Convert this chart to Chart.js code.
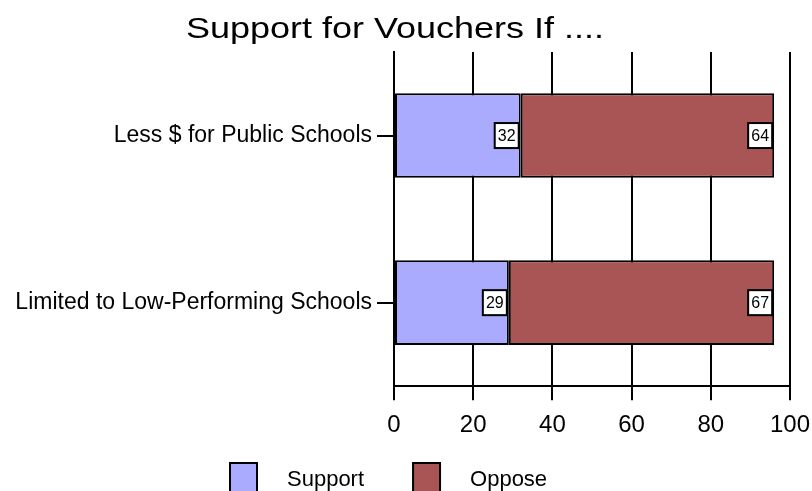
<!DOCTYPE html>
<html>
<head>
<meta charset="utf-8">
<script src="https://cdn.jsdelivr.net/npm/chart.js@4/dist/chart.umd.min.js"></script>
<style>
  html, body { margin: 0; padding: 0; background: #ffffff; }
  #wrap { width: 812px; height: 491px; }
</style>
</head>
<body>
<div id="wrap"><canvas id="chart" width="812" height="491"></canvas></div>
<script>
// Survey results: support / opposition to school vouchers under two conditions
const categories = ['Less $ for Public Schools', 'Limited to Low-Performing Schools'];
const supportValues = [32, 29];
const opposeValues = [64, 67];
const xTicks = [0, 20, 40, 60, 80, 100];
const chartTitle = 'Support for Vouchers If ....';

const FONT = "'Liberation Sans', Arial, sans-serif";
const SUPPORT_COLOR = '#aaaaff';
const OPPOSE_COLOR = '#aa5555';

// Wide title drawn across the top margin
const wideTitle = {
  id: 'wideTitle',
  afterDraw(chart) {
    const ctx = chart.ctx;
    ctx.save();
    ctx.font = '30px ' + FONT;
    ctx.fillStyle = '#000000';
    ctx.textAlign = 'center';
    ctx.textBaseline = 'alphabetic';
    ctx.translate(395, 38);
    ctx.scale(1.2, 1);
    ctx.fillText(chartTitle, 0, 0);
    ctx.restore();
  }
};

// White boxed value labels sitting at the right end of each segment
const valueBoxes = {
  id: 'valueBoxes',
  afterDatasetsDraw(chart) {
    const ctx = chart.ctx;
    ctx.save();
    ctx.font = '16px ' + FONT;
    ctx.textAlign = 'center';
    ctx.textBaseline = 'middle';
    chart.data.datasets.forEach((ds, di) => {
      chart.getDatasetMeta(di).data.forEach((bar, i) => {
        const w = 24, h = 25;
        const right = bar.x - 2;
        const left = right - w;
        const top = bar.y - h / 2;
        ctx.fillStyle = '#ffffff';
        ctx.fillRect(left, top, w, h);
        ctx.strokeStyle = '#000000';
        ctx.lineWidth = 2;
        ctx.strokeRect(left, top, w, h);
        ctx.fillStyle = '#000000';
        ctx.fillText(String(ds.data[i]), left + w / 2, bar.y + 1);
      });
    });
    ctx.restore();
  }
};

// Legend row along the bottom edge
const bottomLegend = {
  id: 'bottomLegend',
  afterDraw(chart) {
    const ctx = chart.ctx;
    ctx.save();
    ctx.font = '22px ' + FONT;
    ctx.textBaseline = 'middle';
    const boxW = 27, boxH = 30, textGap = 30, itemGap = 49;
    let x = 230;
    const boxTop = 463;
    const textY = 480;
    chart.data.datasets.forEach(ds => {
      ctx.fillStyle = ds.backgroundColor;
      ctx.fillRect(x, boxTop, boxW, boxH);
      ctx.strokeStyle = '#000000';
      ctx.lineWidth = 2;
      ctx.strokeRect(x, boxTop, boxW, boxH);
      const tx = x + boxW + textGap;
      ctx.fillStyle = '#000000';
      ctx.fillText(ds.label, tx, textY);
      x = tx + ctx.measureText(ds.label).width + itemGap;
    });
    ctx.restore();
  }
};

new Chart(document.getElementById('chart'), {
  type: 'bar',
  data: {
    labels: categories,
    datasets: [
      {
        label: 'Support',
        data: supportValues,
        backgroundColor: SUPPORT_COLOR,
        borderColor: '#000000',
        borderWidth: 2,
        borderSkipped: false,
        categoryPercentage: 1,
        barPercentage: 0.506
      },
      {
        label: 'Oppose',
        data: opposeValues,
        backgroundColor: OPPOSE_COLOR,
        borderColor: '#000000',
        borderWidth: 2,
        borderSkipped: false,
        categoryPercentage: 1,
        barPercentage: 0.506
      }
    ]
  },
  options: {
    indexAxis: 'y',
    responsive: false,
    animation: false,
    devicePixelRatio: 1,
    layout: { padding: { left: 15, right: 22, top: 52, bottom: 40 } },
    plugins: {
      legend: { display: false },
      tooltip: { enabled: false },
      title: { display: false }
    },
    scales: {
      x: {
        stacked: true,
        min: 0,
        max: 100,
        afterBuildTicks(scale) {
          scale.ticks = xTicks.map(v => ({ value: v }));
        },
        afterFit(scale) {
          scale.paddingLeft = 0;
          scale.paddingRight = 0;
        },
        grid: {
          color: '#000000',
          lineWidth: 2,
          tickLength: 14,
          tickColor: '#000000',
          drawTicks: true
        },
        border: { display: true, color: '#000000', width: 2 },
        ticks: {
          color: '#000000',
          padding: 11,
          font: { family: FONT, size: 24 }
        }
      },
      y: {
        stacked: true,
        afterFit(scale) { scale.width = 379; },
        grid: {
          offset: false,
          drawOnChartArea: false,
          color: '#000000',
          lineWidth: 2,
          tickLength: 17,
          tickColor: '#000000'
        },
        border: { display: true, color: '#000000', width: 2 },
        ticks: {
          color: '#000000',
          padding: 5,
          font: { family: FONT, size: 23 }
        }
      }
    }
  },
  plugins: [valueBoxes, bottomLegend, wideTitle]
});
</script>
</body>
</html>
